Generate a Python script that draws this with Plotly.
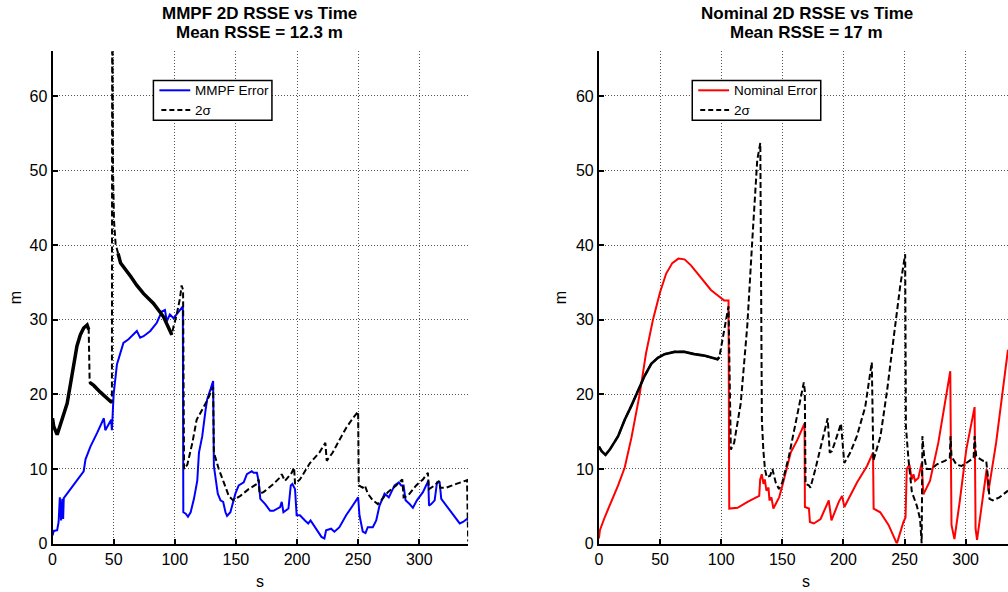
import plotly.graph_objects as go

# ---------------- data ----------------
x_ticks = [0, 50, 100, 150, 200, 250, 300]
y_ticks = [0, 10, 20, 30, 40, 50, 60]

mmpf_error = [(0,1.1),(1,1.7),(3.8,1.8),(5,2.9),(6,6.2),(7,3.1),(8,6.0),(8.7,3.3),(9.2,6.1),
    (14.7,7.3),(20,8.6),(25.5,9.7),(27,11.3),(31,13),(36.4,14.8),(42,16.8),(43.2,15.2),(46,16.1),
    (48,16.6),(48.6,15.2),(50,20),(52.7,24),(55.4,25.4),(58,26.9),(62.2,27.4),(66.3,28),(69,28.5),
    (71.7,27.6),(74.5,27.8),(80,28.5),(85.3,29.6),(89.4,31.1),(92,31.3),(93.5,29.8),(96,30.7),
    (99,30.2),(101.6,30.7),(105.7,31.5),(106.6,31.8),(107,4.2),(109,4.0),(110.8,3.6),(113,4.2),
    (115.7,6.0),(118.4,8.4),(119.8,12.2),(122.5,14.4),(125.2,17.9),(126.6,19.4),(129.3,20.7),
    (131.4,21.8),(132,10.4),(133.3,8.6),(135.2,6.7),(137.4,5.8),(139.6,5.6),(141.5,4.2),(142.8,3.7),
    (145.5,4.2),(147.7,5.6),(149.6,6.7),(152.3,7.8),(156.4,8.2),(159,9.3),(161.2,9.5),(163,9.7),
    (164.5,9.5),(167.2,9.5),(168.6,8.4),(170,6.0),(174,5.3),(178,4.4),(180.8,4.4),(186.2,4.9),
    (187.5,5.6),(188.9,4.2),(193,4.7),(194.9,7.8),(196.2,8.0),(198.4,7.3),(199.7,3.8),(202.4,3.8),
    (206.5,3.1),(209.2,2.7),(211.1,3.1),(216,1.8),(220,0.9),(222.4,0.7),(223.8,1.8),(227.9,2.0),
    (230.6,1.6),(234.7,2.2),(240.2,3.8),(245.6,5.1),(250,6.2),(251.1,3.8),(253.8,1.6),(256,1.4),
    (257.9,2.2),(262,2.2),(264.8,3.1),(267.5,5.1),(270.2,6.2),(271.6,6.7),(275.1,6.2),(279.8,7.8),
    (283.3,8.2),(285.2,7.8),(287.2,7.8),(288.8,5.8),(292.1,5.3),(294.8,4.8),(298.1,5.8),(303,6.9),
    (307.4,8.4),(308,5.1),(309.8,5.3),(312.6,5.8),(314.5,8.2),(316.7,8.2),(318,6.0),(322.1,5.1),
    (327.6,3.8),(333.1,2.7),(335.8,2.9),(339.1,3.3),(340,3.1)]

mmpf_sigma = [(0,16.8),(1,15.7),(3.8,14.6),(6.5,15.9),(9.2,17.4),(12,18.8),(14.7,21.4),(17.4,24),
    (20,26.5),(22.8,28),(25.5,28.9),(28.3,29.3),(29.6,28.7),(30.4,21.6),(33.7,21.2),(39.1,20.3),
    (44.6,19.4),(47.8,19),(48.6,19),(48.9,90),(49.2,62),(49.5,50),(50.3,43.3),(51.6,40.2),(53.6,38.9),
    (55.7,37.6),(64,35.8),(69,34.6),(74.5,33.5),(82.6,32.2),(90.8,30.4),(96.2,28.5),(97.6,28.0),
    (99,29.1),(101.6,30.7),(104.3,32.9),(105.6,34.6),(106.8,34.0),(107.6,10),(110.3,10.6),
    (114.4,13.5),(117.9,16.6),(122.5,17.9),(126.6,19.2),(130.6,20.7),(131.4,21),(132,12.2),(136,10),
    (140.1,8.2),(144.2,6.4),(147.7,5.8),(153.7,6.4),(160.4,7.3),(167.2,8.0),(168.6,8.6),(169.4,6.7),
    (172.6,6.9),(180.8,8.0),(186.2,8.9),(187.5,9.3),(190.2,8.4),(195.7,9.5),(197.6,10.2),(198.4,8.0),
    (202.4,8.6),(210.6,10.8),(218.3,12.2),(223.2,13.5),(224.3,11.1),(229.2,12.2),(234.7,13.9),
    (240.2,15.5),(245.6,16.8),(250,17.7),(250.5,7.8),(253.8,7.5),(255.5,7.8),(257.9,6.7),(262,5.8),
    (266.1,5.3),(268.9,5.8),(274.3,6.9),(281.1,7.8),(285.2,8.5),(286.1,8.6),(287.2,6.2),(290.7,6.4),
    (297.5,7.8),(303,8.6),(307.1,9.5),(307.9,7.3),(312.6,7.8),(316.1,8.4),(317.2,7.5),(322.1,7.5),
    (330.3,8.0),(339.1,8.5),(340,0.3)]

nominal_error = [(0,0.7),(0.8,1.8),(4.9,3.6),(10.3,5.6),(15.7,7.8),(21.1,10.2),(26.6,14.2),(33.3,20),
    (38.5,25.5),(44.2,30),(50,33.7),(55,36.2),(60,37.6),(65,38.2),(70,38.1),(75.3,37.3),(80.8,36.2),
    (86.2,35.1),(91.6,34.0),(97,33.3),(102.4,32.6),(106,32.6),(106.6,4.7),(113.4,4.8),(121.6,5.6),
    (131.1,6.4),(131.9,8.6),(133.2,9.3),(134.6,8.0),(135.7,8.6),(137,7.1),(138.7,7.5),(139.5,5.8),
    (141.1,6.2),(142.7,4.7),(144.6,5.3),(147.4,6.2),(150.1,7.8),(156.9,12.2),(162.3,13.9),(168.2,16.1),
    (168.5,4.9),(171.8,4.7),(172.6,2.9),(175.8,2.7),(181.3,3.3),(185.3,4.7),(188,5.8),(190.2,3.1),
    (193.5,4.4),(196.2,5.6),(198.9,6.4),(200.8,4.9),(203,5.6),(211.1,8.2),(219.3,10.4),(224.2,12.2),
    (224.7,4.7),(230.1,4.2),(236.9,2.5),(243.7,0),(249.1,2.9),(250.8,3.5),(251.8,10.0),(254,10.6),
    (255.9,8.6),(257.3,9.3),(258.6,8.4),(261.3,8.8),(264,10.8),(265.4,6.6),(270.8,8.4),(277.6,13.5),
    (283,18.8),(287.4,23.1),(288.4,2.5),(290.8,0.6),(295.1,5.6),(300.5,12.6),(307.3,18.3),(308.1,2.0),
    (309.3,0.5),(312.7,4.7),(317.2,10),(318.6,7.0),(324.9,13.5),(334.6,26)]

nominal_sigma = [(0,13.0),(2.2,12.4),(5.4,11.9),(8.9,12.6),(15.7,14.4),(21.1,16.6),(26.6,18.5),
    (32,20.5),(37.4,22.5),(42.8,24.1),(48.2,24.9),(53.7,25.4),(61.8,25.7),(70,25.7),(78,25.4),
    (86.2,25.2),(97,24.7),(98.5,25),(102.4,28.5),(106,31.8),(107.9,12.6),(110.6,13.5),(116,18.8),
    (121.4,29.3),(125.5,40.8),(129.5,51.4),(132,53.7),(132.6,30),(133.3,16.5),(134.5,12.5),
    (135.8,10),(137.3,8.9),(140,9.1),(141.9,10),(144.6,8.2),(147.3,7.3),(150,8.2),(155.4,11.7),
    (160.8,15.9),(164.9,19.2),(167.6,21.6),(168.4,20.5),(169,8.0),(171.7,7.8),(173,7.5),(177.1,10),
    (182.5,13.5),(187.1,16.8),(188.8,12.2),(190.6,12.4),(194.7,14.4),(198,16.1),(200.7,10.8),
    (205.6,12.2),(211,14.4),(217.8,18.3),(223.2,24.3),(224.5,11.1),(230.3,14.4),(235.7,20.5),
    (241.1,27.6),(246.5,34.6),(250.5,38.8),(251.1,15.7),(253.2,11.3),(256,6.9),(260,5.1),
    (262.7,3.3),(264,0),(264.6,14.4),(266,11.7),(268.1,10),(272.2,10),(276.2,10.6),(283,11.1),
    (287,11.5),(287.6,14.4),(288.4,11.7),(292.4,10.6),(296.5,10.4),(300.5,10.8),(306.5,11.5),
    (307.3,14.4),(308.6,11.7),(314.1,11.1),(316.8,11.1),(318.1,9.1),(319.5,6.0),(322.2,5.8),
    (327.6,6.2),(334.6,7.1)]

# dense (visually solid) stretches of the 2-sigma curves
mmpf_dense = [(0, 29.6), (30.4, 48.6), (53.6, 97.6)]
nominal_dense = [(0, 98.5)]

# ---------------- figure ----------------
W, H = 1008, 592
FONT = "Liberation Sans, Arial, Helvetica, sans-serif"
DASH = "6px,3px"

def split(pts):
    return [p[0] for p in pts], [p[1] for p in pts]

def dense(pts, ranges):
    out = []
    for a, b in ranges:
        seg = [p for p in pts if a <= p[0] <= b]
        out.append(split(seg))
    return out

fig = go.Figure()

ex, ey = split(mmpf_error)
sx, sy = split(mmpf_sigma)
fig.add_trace(go.Scatter(x=ex, y=ey, mode="lines", name="MMPF Error",
                         line=dict(color="#0000ff", width=2), xaxis="x", yaxis="y"))
fig.add_trace(go.Scatter(x=sx, y=sy, mode="lines", name="2σ",
                         line=dict(color="black", width=2, dash=DASH), xaxis="x", yaxis="y"))
for dx, dy in dense(mmpf_sigma, mmpf_dense):
    fig.add_trace(go.Scatter(x=dx, y=dy, mode="lines",
                             line=dict(color="black", width=3.5), xaxis="x", yaxis="y"))

ex2, ey2 = split(nominal_error)
sx2, sy2 = split(nominal_sigma)
fig.add_trace(go.Scatter(x=ex2, y=ey2, mode="lines", name="Nominal Error",
                         line=dict(color="#ff0000", width=2), xaxis="x2", yaxis="y2"))
fig.add_trace(go.Scatter(x=sx2, y=sy2, mode="lines", name="2σ",
                         line=dict(color="black", width=2, dash=DASH), xaxis="x2", yaxis="y2"))
for dx, dy in dense(nominal_sigma, nominal_dense):
    fig.add_trace(go.Scatter(x=dx, y=dy, mode="lines",
                             line=dict(color="black", width=2.6), xaxis="x2", yaxis="y2"))

# pixel geometry
LX0, LX1 = 48.7, 466.0
RX0 = 597.3
PX_PER_UNIT = (LX1 - LX0) / 340.0
Y_TOP, Y_BOT = 52.0, 552.0
right_max = (W - RX0) / PX_PER_UNIT

axis_common = dict(
    showline=True, linecolor="black", linewidth=2, mirror=False,
    ticks="inside", ticklen=5, tickwidth=1.5, tickcolor="black",
    showgrid=True, gridcolor="#555555", gridwidth=1, griddash="1px,2px",
    zeroline=False, tickfont=dict(family=FONT, size=16, color="black"),
)
ydom = [(H - Y_BOT) / H, (H - Y_TOP) / H]
fig.update_layout(
    width=W, height=H, margin=dict(l=0, r=0, t=0, b=0),
    paper_bgcolor="white", plot_bgcolor="white", showlegend=False,
    xaxis=dict(domain=[LX0 / W, LX1 / W], range=[0, 340], tickvals=x_ticks, anchor="y", **axis_common),
    yaxis=dict(domain=ydom, range=[0, 66], tickvals=y_ticks, anchor="x", **axis_common),
    xaxis2=dict(domain=[RX0 / W, 1.0], range=[0, right_max], tickvals=x_ticks, anchor="y2", **axis_common),
    yaxis2=dict(domain=ydom, range=[0, 66], tickvals=y_ticks, anchor="x2", **axis_common),
)

def px(x):
    return x / W

def py(y):
    return 1 - y / H

def ann(text, xp, yp, size, bold=False, angle=0, xanchor="center"):
    fig.add_annotation(text=f"<b>{text}</b>" if bold else text, x=px(xp), y=py(yp),
                       xref="paper", yref="paper", xanchor=xanchor, yanchor="middle",
                       showarrow=False, textangle=angle,
                       font=dict(family=FONT, size=size, color="black"))

# legend boxes (MATLAB style), drawn as shapes + text
def legend_box(x0, x1, y0, y1, label1, color1, label2):
    fig.add_shape(type="rect", xref="paper", yref="paper", x0=px(x0), x1=px(x1), y0=py(y1), y1=py(y0),
                  line=dict(color="black", width=1.5), fillcolor="white", layer="above")
    fig.add_shape(type="line", xref="paper", yref="paper", x0=px(x0 + 6), x1=px(x0 + 37),
                  y0=py(y0 + 10), y1=py(y0 + 10), line=dict(color=color1, width=2), layer="above")
    fig.add_shape(type="line", xref="paper", yref="paper", x0=px(x0 + 8), x1=px(x0 + 37),
                  y0=py(y0 + 30), y1=py(y0 + 30), line=dict(color="black", width=2, dash="5px,3px"),
                  layer="above")
    ann(label1, x0 + 40, y0 + 10, 13.5, xanchor="left")
    ann(label2, x0 + 40, y0 + 30, 13.5, xanchor="left")

legend_box(150, 269, 81.7, 122, "MMPF Error", "#0000ff", "2σ")
legend_box(691, 820, 81.7, 122, "Nominal Error", "#ff0000", "2σ")

ann("MMPF 2D RSSE vs Time", 257, 14, 17, bold=True)
ann("Mean RSSE = 12.3 m", 257, 33.5, 17, bold=True)
ann("Nominal 2D RSSE vs Time", 806, 14, 17, bold=True)
ann("Mean RSSE = 17 m", 806, 33.5, 17, bold=True)
ann("s", 257, 590, 16)
ann("s", 805, 590, 16)
ann("m", 11, 302, 16, angle=-90)
ann("m", 559, 302, 16, angle=-90)

fig.write_html("out.html")
